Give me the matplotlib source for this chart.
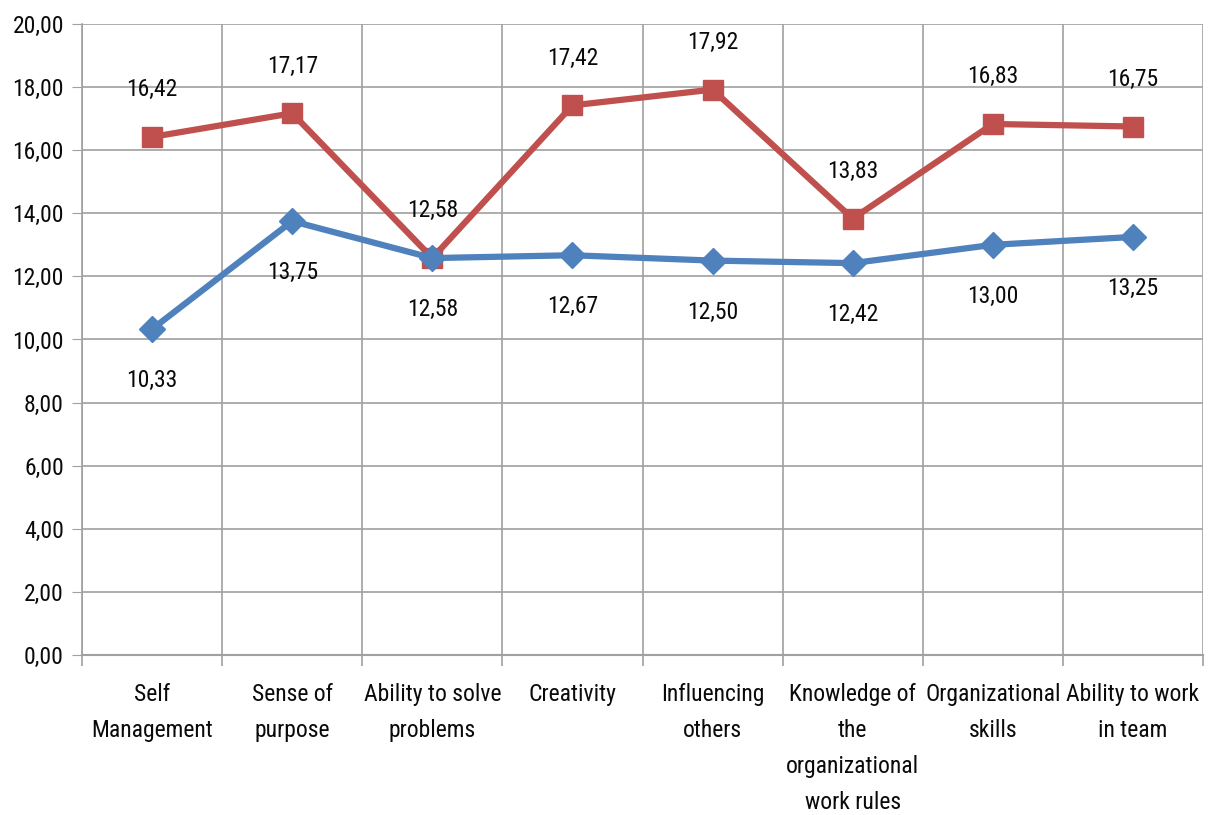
import matplotlib
matplotlib.use("Agg")
import matplotlib.pyplot as plt
from matplotlib.ticker import FuncFormatter, FixedLocator
from matplotlib import font_manager

categories = [
    "Self\nManagement",
    "Sense of\npurpose",
    "Ability to solve\nproblems",
    "Creativity",
    "Influencing\nothers",
    "Knowledge of\nthe\norganizational\nwork rules",
    "Organizational\nskills",
    "Ability to work\nin team",
]
series_red = [16.42, 17.17, 12.58, 17.42, 17.92, 13.83, 16.83, 16.75]
series_blue = [10.33, 13.75, 12.58, 12.67, 12.50, 12.42, 13.00, 13.25]
y_ticks = [0, 2, 4, 6, 8, 10, 12, 14, 16, 18, 20]

# pick a narrow face if one is available, else condensed DejaVu
names = {f.name for f in font_manager.fontManager.ttflist}
family = "DejaVu Sans"
for cand in ["Liberation Sans Narrow", "Roboto Condensed", "Open Sans Condensed"]:
    if cand in names:
        family = cand
        break
plt.rcParams["font.family"] = [family, "DejaVu Sans"]
plt.rcParams["font.stretch"] = "condensed"

RED = "#C0504D"
BLUE = "#4F81BD"
GRID = "#A0A0A0"
TEXT = "#0A0A0A"

fig = plt.figure(figsize=(12.08, 8.15), dpi=100)
ax = fig.add_axes([0.0679, 0.1963, 0.9280, 0.7743])

x = list(range(len(categories)))

ax.plot(x, series_red, color=RED, lw=4.5, marker="s", ms=15, zorder=3)
ax.plot(x, series_blue, color=BLUE, lw=4.5, marker="D", ms=13, zorder=3)

fs = 17
for xi, v in zip(x, series_red):
    ax.annotate(f"{v:.2f}".replace(".", ","), (xi, v), xytext=(0, 34),
                textcoords="offset points", ha="center", va="center",
                fontsize=fs, color=TEXT)
for xi, v in zip(x, series_blue):
    ax.annotate(f"{v:.2f}".replace(".", ","), (xi, v), xytext=(0, -37),
                textcoords="offset points", ha="center", va="center",
                fontsize=fs, color=TEXT)

ax.set_xlim(-0.5, len(categories) - 0.5)
ax.set_ylim(0, 20)

ax.set_yticks(y_ticks)
ax.yaxis.set_major_formatter(FuncFormatter(lambda v, p: f"{v:.2f}".replace(".", ",")))
ax.tick_params(axis="y", length=7, color=GRID, labelsize=fs, pad=6, labelcolor=TEXT)

ax.set_xticks(x)
ax.set_xticklabels(categories, fontsize=fs, linespacing=1.72, va="top", color=TEXT)
ax.tick_params(axis="x", which="major", length=0, pad=20)
ax.xaxis.set_minor_locator(FixedLocator([i - 0.5 for i in range(len(categories) + 1)]))
ax.tick_params(axis="x", which="minor", length=8, color=GRID, width=1.2)

ax.grid(axis="y", which="major", color=GRID, lw=1.2)
ax.grid(axis="x", which="minor", color=GRID, lw=1.2)
ax.set_axisbelow(True)

for s in ["top", "right"]:
    ax.spines[s].set_visible(False)
ax.spines["left"].set_color(GRID)
ax.spines["bottom"].set_color(GRID)
ax.spines["left"].set_linewidth(1.2)
ax.spines["bottom"].set_linewidth(1.5)

fig.savefig("out.png", dpi=100)
